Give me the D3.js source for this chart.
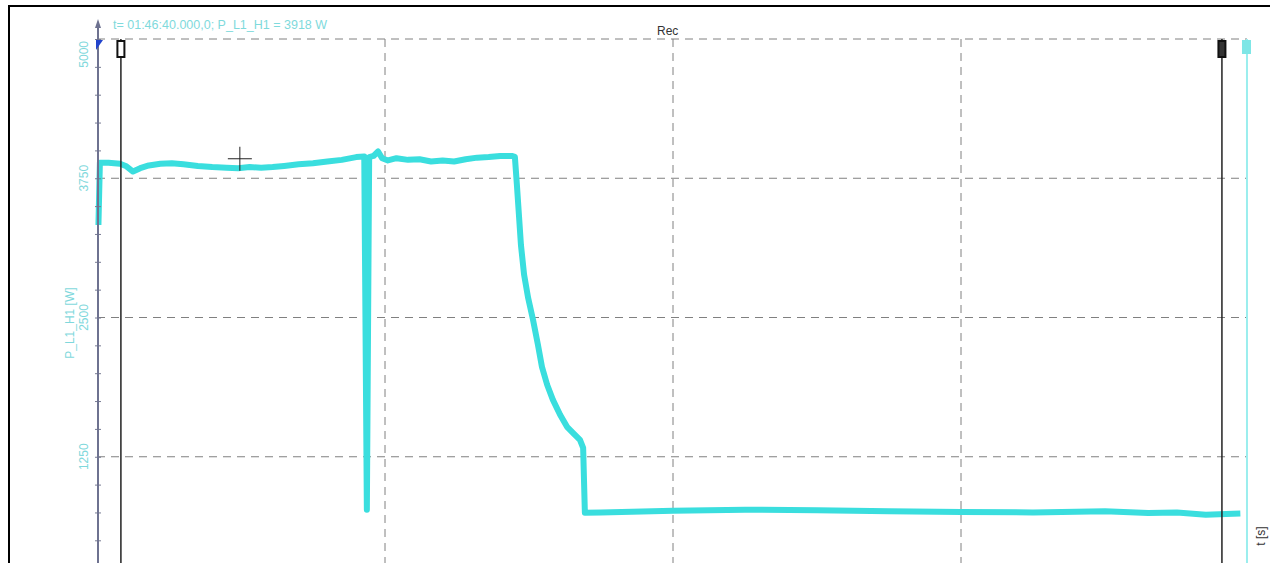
<!DOCTYPE html>
<html>
<head>
<meta charset="utf-8">
<script src="https://cdn.jsdelivr.net/npm/d3@7"></script>
<style>
  body { margin: 0; background: #fff; }
  svg { display: block; font-family: "Liberation Sans", Arial, sans-serif; }
</style>
</head>
<body>
<div id="chart"></div>
<script>
const width = 1270
const height = 563

// recorded power P_L1_H1 over time
const timeS = [0.5, 1, 4, 8, 10, 12.5, 15, 18, 22, 26, 30, 35, 40, 45, 49, 53, 57, 61, 65, 70, 75, 80, 85, 90, 92.8,
  93.7, 94.5, 96, 97.6, 99, 101, 104, 108, 112, 116, 120, 124, 128, 132, 136, 140, 144,
  145.1, 145.8, 146.5, 147.2, 148.3, 149.7, 151.4, 153.1, 154.5, 156.3, 158.3, 160.8, 163.2, 165.6, 167.7, 168.8, 169.4,
  175, 200, 225, 250, 275, 300, 325, 350, 365, 375, 385, 392, 397]
const powerW = [3330, 3890, 3890, 3880, 3860, 3810, 3840, 3865, 3880, 3885, 3875, 3860, 3850, 3845, 3840, 3850, 3845, 3850, 3860, 3875, 3885, 3900, 3915, 3940, 3945,
  774, 3940, 3950, 3990, 3930, 3910, 3930, 3915, 3920, 3900, 3910, 3900, 3920, 3935, 3940, 3950, 3950,
  3941, 3690, 3421, 3152, 2883, 2676, 2479, 2255, 2057, 1896, 1761, 1627, 1519, 1456, 1402, 1330, 747,
  750, 765, 775, 770, 760, 755, 750, 760, 745, 750, 730, 735, 740]

const yTicks = [1250, 2500, 3750, 5000]
const xGrid = [100, 200, 300]
const cursorTimes = [8.3, 390.6]
const readoutText = "t= 01:46:40.000,0; P_L1_H1 = 3918 W"

const cyan = "#3adede"

const svg = d3.select("#chart")
  .append("svg")
  .attr("width", width)
  .attr("height", height)

const xScale = d3.scaleLinear()
  .domain([0, 400])
  .range([97, 1249])

const yScale = d3.scaleLinear()
  .domain([0, 5000])
  .range([596, 39])

// outer frame
svg.append("path")
  .attr("d", `M9,${height} V6 H${width}`)
  .attr("fill", "none")
  .attr("stroke", "#000")
  .attr("stroke-width", 2)

// horizontal grid
svg.selectAll("line.hgrid")
  .data(yTicks)
  .join("line")
  .attr("class", "hgrid")
  .attr("x1", xScale(0))
  .attr("x2", xScale(400) - 2)
  .attr("y1", d => yScale(d))
  .attr("y2", d => yScale(d))
  .attr("stroke", "#808080")
  .attr("stroke-dasharray", "8,6")

// vertical grid
svg.selectAll("line.vgrid")
  .data(xGrid)
  .join("line")
  .attr("class", "vgrid")
  .attr("x1", d => xScale(d))
  .attr("x2", d => xScale(d))
  .attr("y1", yScale(5000))
  .attr("y2", height)
  .attr("stroke", "#808080")
  .attr("stroke-dasharray", "8,6")

// right boundary (cyan)
svg.append("line")
  .attr("x1", xScale(399.3)).attr("x2", xScale(399.3))
  .attr("y1", yScale(5000)).attr("y2", height)
  .attr("stroke", "#9beeee").attr("stroke-width", 2)
svg.append("rect")
  .attr("x", xScale(399.3) - 5).attr("y", yScale(5000) + 1)
  .attr("width", 9).attr("height", 14)
  .attr("fill", "#7ee6e6")

// the signal
const lineFunc = d3.line()
  .x(d => xScale(d[0]))
  .y(d => yScale(d[1]))

svg.selectAll("path.trend")
  .data([d3.zip(timeS, powerW)])
  .join("path")
  .attr("class", "trend")
  .attr("d", d => lineFunc(d))
  .attr("fill", "none")
  .attr("stroke", cyan)
  .attr("stroke-width", 6)
  .attr("stroke-linejoin", "round")

// cursors
svg.selectAll("line.cursor")
  .data(cursorTimes)
  .join("line")
  .attr("class", "cursor")
  .attr("x1", d => xScale(d))
  .attr("x2", d => xScale(d))
  .attr("y1", yScale(5000))
  .attr("y2", height)
  .attr("stroke", "#222")
  .attr("stroke-width", 1.5)

svg.selectAll("rect.cursorMark")
  .data(cursorTimes)
  .join("rect")
  .attr("class", "cursorMark")
  .attr("x", d => xScale(d) - 3.5)
  .attr("y", yScale(5000) + 2)
  .attr("width", 7)
  .attr("height", 16)
  .attr("fill", (d, i) => i === 0 ? "#fff" : "#333")
  .attr("stroke", "#111")
  .attr("stroke-width", 2)

// y axis
const yAxis = d3.axisLeft(yScale)
  .tickValues(d3.range(0, 5001, 250))
  .tickSize(3)
  .tickFormat("")

const yAxisG = svg.append("g")
  .attr("transform", `translate(${xScale(0) + 1},0)`)
  .call(yAxis)
yAxisG.select(".domain").remove()
yAxisG.selectAll(".tick line")
  .attr("x2", 6).attr("transform", "translate(-3,0)")
  .attr("stroke", "#777b92")

svg.append("line")
  .attr("x1", xScale(0) + 1).attr("x2", xScale(0) + 1)
  .attr("y1", 24).attr("y2", height)
  .attr("stroke", "#6e7290").attr("stroke-width", 2)
svg.append("path")
  .attr("d", `M${xScale(0) + 1},19 l-3,9 h6 z`)
  .attr("fill", "#6e7290")
svg.append("path")
  .attr("d", `M${xScale(0) - 1},${yScale(5000) + 1} h7 l-7,10 z`)
  .attr("fill", "#2244cc")

svg.selectAll("text.ytick")
  .data(yTicks)
  .join("text")
  .attr("class", "ytick")
  .attr("transform", d => `translate(88,${d === 5000 ? yScale(d) + 2 : yScale(d)}) rotate(-90)`)
  .attr("text-anchor", d => d === 5000 ? "end" : "middle")
  .attr("font-size", 12)
  .attr("fill", "#7fd8dc")
  .text(d => d)

svg.append("text")
  .attr("transform", `translate(74,${yScale(2450)}) rotate(-90)`)
  .attr("text-anchor", "middle")
  .attr("font-size", 12)
  .attr("fill", "#7fd8dc")
  .text("P_L1_H1 [W]")

// labels
svg.append("text")
  .attr("x", 113).attr("y", 29)
  .attr("font-size", 12.5)
  .attr("fill", "#7fdadc")
  .text(readoutText)

svg.append("text")
  .attr("x", 657).attr("y", 35)
  .attr("font-size", 12)
  .attr("fill", "#333")
  .text("Rec")

svg.append("text")
  .attr("transform", "translate(1265,536) rotate(-90)")
  .attr("text-anchor", "middle")
  .attr("font-size", 12)
  .attr("fill", "#333")
  .text("t [s]")

// mouse crosshair
const cx = xScale(49.6), cy = yScale(3925)
svg.append("path")
  .attr("d", `M${cx - 12},${cy} h24 M${cx},${cy - 12} v24`)
  .attr("stroke", "#222")
  .attr("stroke-width", 1)
</script>
</body>
</html>
